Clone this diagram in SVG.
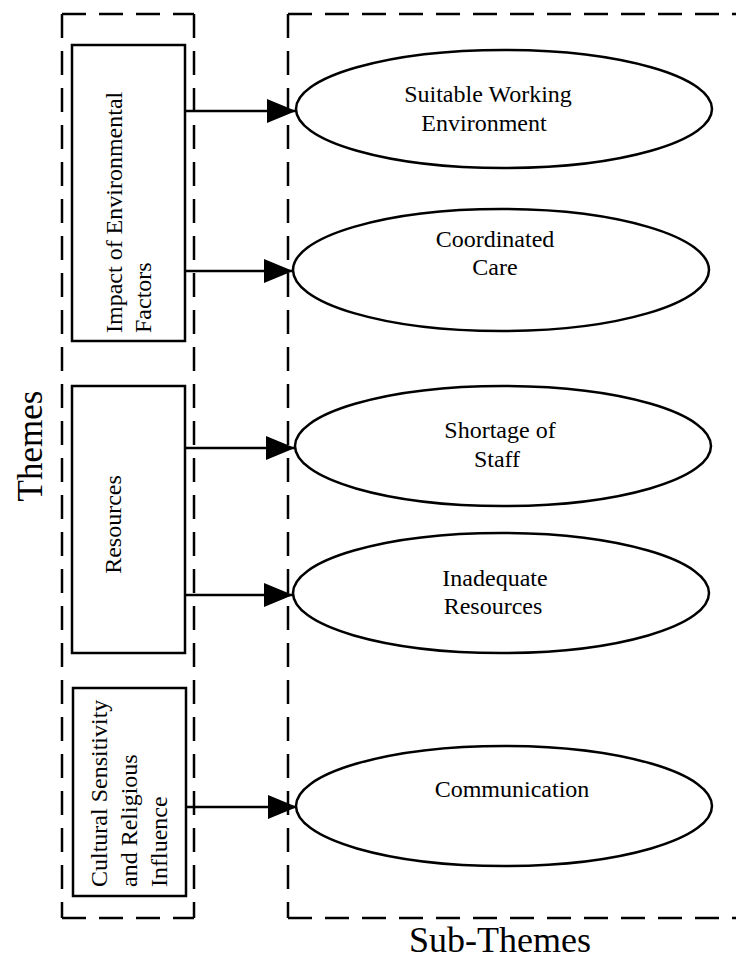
<svg xmlns="http://www.w3.org/2000/svg" width="736" height="960" viewBox="0 0 736 960">
<style>
.dash{fill:none;stroke:#000;stroke-width:2.5;stroke-dasharray:24 13}
.box{fill:#fff;stroke:#000;stroke-width:2.5}
.ell{fill:#fff;stroke:#000;stroke-width:2.5}
.t{font-family:"Liberation Serif","Times New Roman",serif;font-size:24px;fill:#000}
.big{font-family:"Liberation Serif","Times New Roman",serif;font-size:35px;fill:#000}
.conn line{stroke:#000;stroke-width:2.5;marker-end:url(#arr)}
</style>
<defs>
<marker id="arr" markerUnits="userSpaceOnUse" viewBox="0 0 29 24" refX="29" refY="12" markerWidth="29" markerHeight="24" orient="auto">
<path d="M0,0 L29,12 L0,24 Z" fill="#000"/>
</marker>
</defs>
<rect width="736" height="960" fill="#fff"/>
<g id="themes-group">
<path class="dash" d="M62,14 H194"/>
<path class="dash" d="M62,14 V918"/>
<path class="dash" d="M194,14 V918"/>
<path class="dash" d="M62,918 H194"/>
<text class="big" text-anchor="middle" transform="translate(41.5,446) rotate(-90)">Themes</text>
</g>
<g id="subthemes-group">
<path class="dash" d="M288,14 H740"/>
<path class="dash" d="M288,14 V918"/>
<path class="dash" d="M288,918 H740"/>
<text class="big" x="500" y="952" text-anchor="middle" style="font-size:36px">Sub-Themes</text>
</g>
<g id="theme-impact">
<rect class="box" x="72" y="45" width="113" height="296"/>
<text class="t" transform="translate(121.5,333) rotate(-90)"><tspan x="0" y="0">Impact of Environmental</tspan><tspan x="0" y="29">Factors</tspan></text>
</g>
<g id="theme-resources">
<rect class="box" x="72" y="386" width="113" height="267"/>
<text class="t" text-anchor="middle" transform="translate(120.5,524.5) rotate(-90)">Resources</text>
</g>
<g id="theme-cultural">
<rect class="box" x="73" y="688" width="113" height="208"/>
<text class="t" transform="translate(106.7,887) rotate(-90)"><tspan x="0" y="0">Cultural Sensitivity</tspan><tspan x="0" y="30">and Religious</tspan><tspan x="0" y="60">Influence</tspan></text>
</g>
<g id="sub-suitable">
<ellipse class="ell" cx="504" cy="109" rx="208" ry="59"/>
<text class="t" text-anchor="middle"><tspan x="488" y="102">Suitable Working</tspan><tspan x="484" y="131">Environment</tspan></text>
</g>
<g id="sub-coordinated">
<ellipse class="ell" cx="501" cy="270" rx="208" ry="61"/>
<text class="t" text-anchor="middle"><tspan x="495" y="247">Coordinated</tspan><tspan x="495" y="275">Care</tspan></text>
</g>
<g id="sub-shortage">
<ellipse class="ell" cx="503" cy="446" rx="208" ry="60"/>
<text class="t" text-anchor="middle"><tspan x="500" y="438">Shortage of</tspan><tspan x="497" y="467">Staff</tspan></text>
</g>
<g id="sub-inadequate">
<ellipse class="ell" cx="501" cy="593" rx="208" ry="60"/>
<text class="t" text-anchor="middle"><tspan x="495" y="586">Inadequate</tspan><tspan x="493" y="614">Resources</tspan></text>
</g>
<g id="sub-communication">
<ellipse class="ell" cx="504" cy="806" rx="208" ry="60"/>
<text class="t" text-anchor="middle" x="512" y="797">Communication</text>
</g>
<g id="connectors" class="conn">
<line x1="185" y1="111" x2="296" y2="111"/>
<line x1="185" y1="271" x2="293" y2="271"/>
<line x1="185" y1="448" x2="295" y2="448"/>
<line x1="185" y1="595" x2="293" y2="595"/>
<line x1="186" y1="807" x2="297" y2="807"/>
</g>
</svg>
